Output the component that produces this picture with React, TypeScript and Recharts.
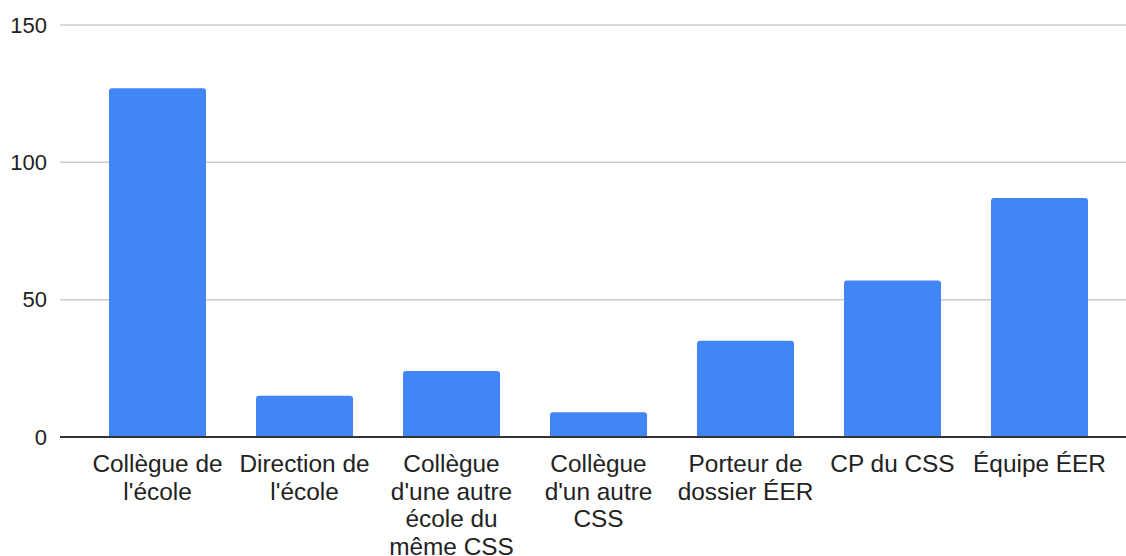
// Column chart of who teachers turned to, rebuilt with recharts.

import * as React from 'react';
import { Bar, BarChart, CartesianGrid, XAxis, YAxis } from 'recharts';

const categories = [
  'Collègue de l\'école',
  'Direction de l\'école',
  'Collègue d\'une autre école du même CSS',
  'Collègue d\'un autre CSS',
  'Porteur de dossier ÉER',
  'CP du CSS',
  'Équipe ÉER',
];

// line breaks as they appear under each column
const tickLines = [
  ['Collègue de', 'l\'école'],
  ['Direction de', 'l\'école'],
  ['Collègue', 'd\'une autre', 'école du', 'même CSS'],
  ['Collègue', 'd\'un autre', 'CSS'],
  ['Porteur de', 'dossier ÉER'],
  ['CP du CSS'],
  ['Équipe ÉER'],
];

const counts = [127, 15, 24, 9, 35, 57, 87];

const yTicks = [0, 50, 100, 150];

const data = categories.map((name, i) => ({
  name,
  lines: tickLines[i],
  value: counts[i],
}));

const FONT = '"Liberation Sans", Arial, sans-serif';
const TEXT = '#222222';

function WrappedTick(props: any) {
  const { x, y, payload } = props;
  const lines: string[] = tickLines[payload.index] ?? [payload.value];
  return (
    <g transform={`translate(${x},${y})`}>
      <text textAnchor='middle' fill={TEXT} fontSize={24.4} fontFamily={FONT}>
        {lines.map((line, i) => (
          <tspan key={i} x={0} y={35 + i * 27.7}>
            {line}
          </tspan>
        ))}
      </text>
    </g>
  );
}

export default function App() {
  return (
    <div style={{ position: 'absolute', left: 0, top: 0, background: '#fff' }}>
      <BarChart
        width={1126}
        height={556}
        data={data}
        margin={{ top: 25, right: 0, bottom: 0, left: 0 }}
      >
        <CartesianGrid vertical={false} stroke='#cccccc' strokeWidth={1.5} />
        <XAxis
          dataKey='name'
          type='category'
          interval={0}
          height={119}
          tickSize={0}
          tickMargin={0}
          tickLine={false}
          padding={{ left: 24, right: 13 }}
          axisLine={{ stroke: '#333333', strokeWidth: 2 }}
          tick={<WrappedTick />}
        />
        <YAxis
          type='number'
          domain={[0, 150]}
          ticks={yTicks}
          width={60}
          axisLine={false}
          tickLine={false}
          tickSize={0}
          tickMargin={13}
          tick={{ fill: TEXT, fontSize: 22, fontFamily: FONT }}
        />
        <Bar
          dataKey='value'
          fill='#4285F4'
          barSize={97}
          radius={[3, 3, 0, 0]}
          isAnimationActive={false}
        />
      </BarChart>
    </div>
  );
}
